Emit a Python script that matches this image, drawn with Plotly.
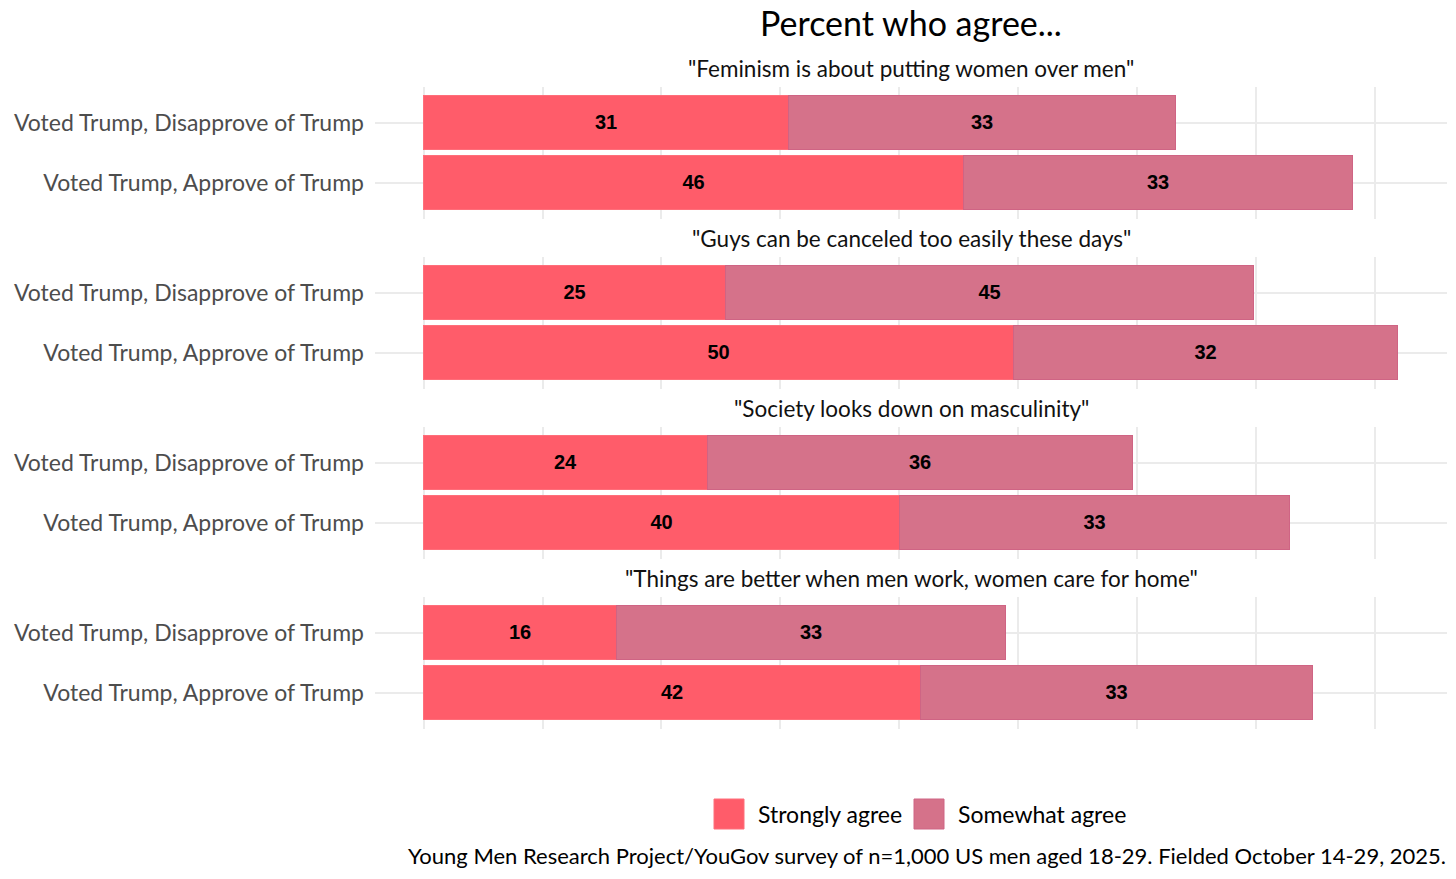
import plotly.graph_objects as go
from plotly.subplots import make_subplots

statements = [
    '"Feminism is about putting women over men"',
    '"Guys can be canceled too easily these days"',
    '"Society looks down on masculinity"',
    '"Things are better when men work, women care for home"',
]
groups = ["Voted Trump, Approve of Trump", "Voted Trump, Disapprove of Trump"]
# values per statement: [Approve, Disapprove] (labels rounded)
strongly = [[45.5, 30.7], [49.7, 25.4], [40.1, 23.9], [41.8, 16.3]]
somewhat = [[32.7, 32.6], [32.3, 44.5], [32.8, 35.8], [33.0, 32.7]]

series_names = ["Strongly agree", "Somewhat agree"]
colors = ["#FF5C6A", "#D5728A"]
line_colors = ["#FF6E7A", "#CF6484"]

OFF = 8  # page body margin
W, H = 1456 - 2 * OFF, 879 - 2 * OFF
L, R = 375 - OFF, W - (1447 - OFF)
PW = W - L - R


def px(xr):
    return (xr - OFF - L) / PW


def py(yr):
    return 1 - (yr - OFF) / H


fig = make_subplots(rows=4, cols=1, vertical_spacing=0.02)

for i in range(4):
    for s, (vals, name) in enumerate(zip([strongly[i], somewhat[i]], series_names)):
        fig.add_trace(go.Bar(
            y=groups, x=vals, orientation="h", name=name,
            marker=dict(color=colors[s], line=dict(color=line_colors[s], width=1)),
            width=0.9,
            texttemplate="<b>%{x:.0f}</b>", textposition="inside",
            insidetextanchor="middle",
            textfont=dict(family="Liberation Sans, Arial", size=20, color="black"),
            showlegend=False,
        ), row=i + 1, col=1)

fig.update_layout(barmode="stack")

# panel pixel extents (top, bottom) in reference coordinates
panels = [(86.5, 218.5), (256.5, 388.5), (426.5, 558.5), (596.5, 728.5)]
for i, (t, b) in enumerate(panels):
    sfx = "" if i == 0 else str(i + 1)
    fig.layout["yaxis" + sfx].update(
        domain=[py(b), py(t)],
        type="category", categoryorder="array", categoryarray=groups,
        range=[-0.6, 1.6],
        showgrid=True, gridcolor="#EBEBEB", gridwidth=2,
        ticks="", ticklabelstandoff=10,
        tickfont=dict(family="Lato", size=23, color="#4D4D4D"),
        zeroline=False, showline=False,
    )
    fig.layout["xaxis" + sfx].update(
        range=[-4.1, 86.1], tickmode="array", tickvals=list(range(0, 90, 10)),
        showticklabels=False, showgrid=True, gridcolor="#EBEBEB", gridwidth=2,
        zeroline=False, showline=False,
    )
    fig.add_annotation(
        text=statements[i], xref="x" + sfx + " domain", yref="y" + sfx + " domain",
        x=0.5, y=1, yanchor="middle", yshift=18, showarrow=False,
        font=dict(family="Lato", size=22.5, color="#111111"),
    )

# title
fig.add_annotation(text="Percent who agree...", xref="x domain", yref="paper",
                   x=0.5, y=py(22), yanchor="middle", showarrow=False,
                   font=dict(family="Lato", size=34, color="black"))

# legend (drawn as keys + labels)
key_x = [714, 914]
for s, name in enumerate(series_names):
    x0 = key_x[s]
    fig.add_shape(type="rect", xref="paper", yref="paper",
                  x0=px(x0), x1=px(x0 + 30),
                  y0=py(829), y1=py(799),
                  fillcolor=colors[s], line=dict(color=line_colors[s], width=1))
    fig.add_annotation(text=name, xref="paper", yref="paper",
                       x=px(x0 + 42), y=py(814),
                       xanchor="left", yanchor="middle", showarrow=False,
                       font=dict(family="Lato", size=23, color="black"))

fig.add_annotation(
    text="Young Men Research Project/YouGov survey of n=1,000 US men aged 18-29. Fielded October 14-29, 2025.",
    xref="paper", yref="paper", x=px(1448), y=0,
    xanchor="right", yanchor="bottom", showarrow=False,
    font=dict(family="Lato", size=22, color="black"))

fig.update_layout(
    width=W, height=H,
    margin=dict(l=L, r=R, t=0, b=0),
    plot_bgcolor="white", paper_bgcolor="white",
    showlegend=False,
    bargap=0,
)

fig.write_html("out.html")
